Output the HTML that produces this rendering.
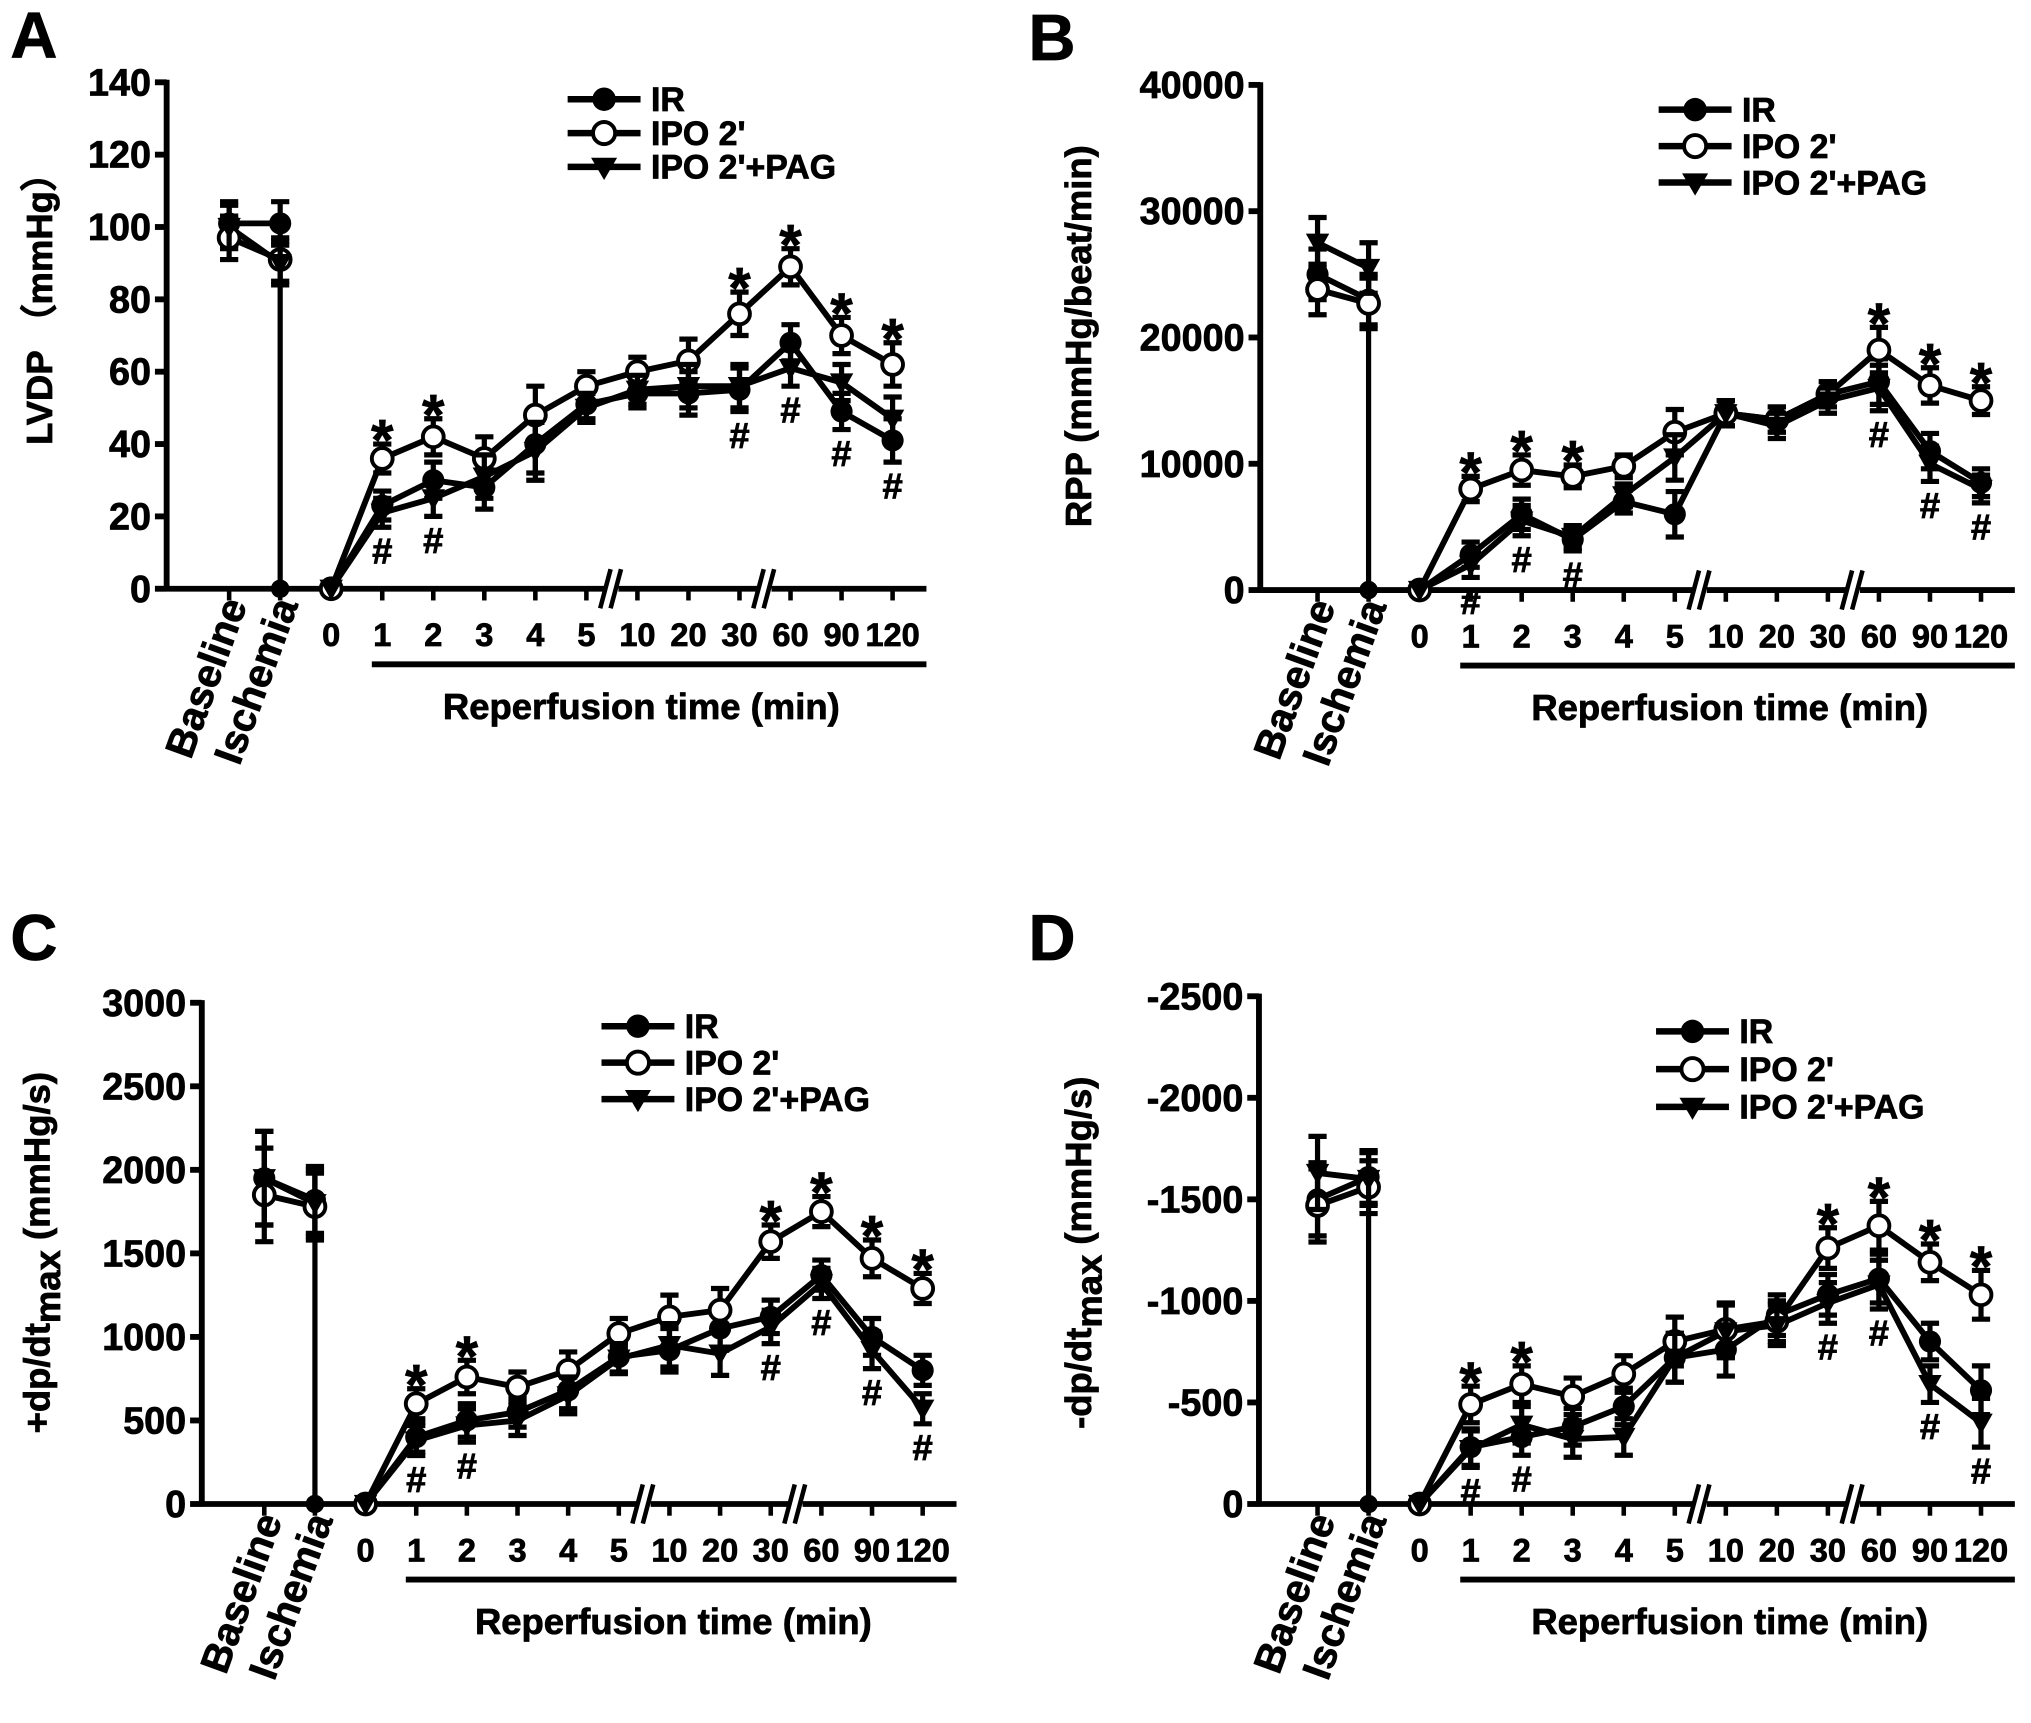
<!DOCTYPE html>
<html><head><meta charset="utf-8"><style>
html,body{margin:0;padding:0;background:#fff}
svg{display:block}
text{font-family:"Liberation Sans",Arial,sans-serif;font-weight:bold;fill:#000;stroke:#000;stroke-width:0.6}
</style></head><body>
<svg id="fig" xmlns="http://www.w3.org/2000/svg" width="2031" height="1723" viewBox="0 0 1560 1323"></svg>
<script>
// ---- shared categories ----
const categories = ["Baseline","Ischemia","0","1","2","3","4","5","10","20","30","60","90","120"];

// ---- Panel A: LVDP ----
const aIR  = [101,101,0,23,30,28,40,51,54,54,55,68,49,41];
const aIPO = [97,91,0,36,42,36,48,56,60,63,76,89,70,62];
const aPAG = [100,90,0,21,25,31,38,50,55,56,56,61,57,47];
const aErr = [6,6,0,4,5,6,8,4,4,6,6,5,5,6];
const aTicks = [0,20,40,60,80,100,120,140];
const aStars = [3,4,10,11,12,13];
const aHash = [3,4,10,11,12,13];

// ---- Panel B: RPP ----
const bIR  = [25000,23000,0,2800,6000,4000,7000,6000,14000,13500,15500,16500,11000,8500];
const bIPO = [23800,22700,0,8000,9500,9000,9800,12500,14000,13500,15500,19000,16200,15000];
const bPAG = [27500,25500,0,2000,5500,4200,7500,10500,14000,13000,15000,16000,10000,8000];
const bErr = [2000,2000,0,1000,1200,900,900,1800,1000,1000,1000,1800,1400,1100];
const bTicks = [0,10000,20000,30000,40000];
const bStars = [3,4,5,11,12,13];
const bHash = [3,4,5,11,12,13];

// ---- Panel C: +dp/dt max ----
const cIR  = [1950,1820,0,400,500,550,680,880,920,1050,1120,1370,1000,800];
const cIPO = [1850,1780,0,600,760,700,800,1020,1120,1160,1570,1750,1470,1290];
const cPAG = [1950,1800,0,380,470,500,650,870,950,900,1060,1320,920,570];
const cErr = [280,200,0,90,100,90,110,90,130,130,100,90,110,90];
const cTicks = [0,500,1000,1500,2000,2500,3000];
const cStars = [3,4,10,11,12,13];
const cHash = [3,4,10,11,12,13];

// ---- Panel D: -dp/dt max (magnitude) ----
const dIR  = [1500,1610,0,280,330,380,480,720,760,930,1030,1110,800,560];
const dIPO = [1470,1560,0,490,590,530,640,800,860,900,1260,1370,1190,1030];
const dPAG = [1630,1600,0,270,390,320,330,720,850,880,990,1080,590,400];
const dErr = [180,130,0,90,90,90,90,120,130,100,100,120,90,120];
const dTicks = [0,500,1000,1500,2000,2500];
const dStars = [3,4,10,11,12,13];
const dHash = [3,4,10,11,12,13];

const NS="http://www.w3.org/2000/svg";
const svg=document.getElementById('fig');
function mk(tag,attrs,parent){const e=document.createElementNS(NS,tag);for(const k in attrs)e.setAttribute(k,attrs[k]);(parent||svg).appendChild(e);return e;}

function drawPanel(p){
  const g=mk('g',{});
  
  
  const x=i=>p.x0+i*p.dx;
  const y=v=>p.y0-(v/p.max)*(p.y0-p.yTop);
  const L=mk('text',{x:p.lx,y:p.ly,'font-size':50,'stroke-width':1.5},g);L.textContent=p.letter;
  
  
  const ya=mk('line',{x1:p.ax,y1:p.y0+2,x2:p.ax,y2:p.yTop-2,stroke:'#000','stroke-width':4.5},g);
  
  
  p.ticks.forEach(t=>{
    mk('line',{x1:p.ax-9,y1:y(t),x2:p.ax,y2:y(t),stroke:'#000','stroke-width':4.5},g);
    const tl=mk('text',{x:p.ax-12,y:y(t)+10,'font-size':29,'text-anchor':'end'},g);
    tl.textContent=(p.neg&&t!==0?'-':'')+t;
    
    
  });
  const xEnd=x(13)+26;
  const b1=x(7.5),b2=x(10.5);
  [[p.ax,b1-5],[b1+5,b2-5],[b2+5,xEnd]].forEach(s=>{
    const xl=mk('line',{x1:s[0],y1:p.y0,x2:s[1],y2:p.y0,stroke:'#000','stroke-width':4.5},g);
    
    
  });
  [b1,b2].forEach(b=>{
    mk('line',{x1:b-9,y1:p.y0+15,x2:b-1,y2:p.y0-15,stroke:'#000','stroke-width':3.5},g);
    mk('line',{x1:b-1,y1:p.y0+15,x2:b+7,y2:p.y0-15,stroke:'#000','stroke-width':3.5},g);
  });
  categories.forEach((c,i)=>{
    mk('line',{x1:x(i),y1:p.y0,x2:x(i),y2:p.y0+9,stroke:'#000','stroke-width':3.5},g);
    if(i<2){
      const t=mk('text',{x:0,y:0,'font-size':31,'text-anchor':'end','stroke-width':1,transform:`translate(${x(i)+14},${p.y0+12}) rotate(-70)`},g);
      t.textContent=c;
      
      
    } else {
      const t=mk('text',{x:x(i),y:p.y0+44,'font-size':25,'text-anchor':'middle'},g);
      t.textContent=c;
      
      
    }
  });
  mk('line',{x1:x(3)-8,y1:p.y0+58,x2:xEnd,y2:p.y0+58,stroke:'#000','stroke-width':4.5},g);
  const xt=mk('text',{x:(x(3)+xEnd)/2-10,y:p.y0+100,'font-size':28,'text-anchor':'middle','stroke-width':0.9},g);
  xt.textContent='Reperfusion time (min)';
  
  
  const yt=mk('text',{x:0,y:0,'font-size':28,'text-anchor':'middle','stroke-width':0.9,transform:`translate(${p.ytx},${p.yty}) rotate(-90)`},g);
  yt.innerHTML=p.ytitle;
  
  
  const minPre=Math.min(p.ir[1],p.ipo[1],p.pag[1]);
  mk('line',{x1:x(1),y1:p.y0,x2:x(1),y2:y(minPre-p.err[1]),stroke:'#000','stroke-width':4},g);
  const series=[{n:'ir',v:p.ir,m:'fc'},{n:'ipo',v:p.ipo,m:'oc'},{n:'pag',v:p.pag,m:'tri'}];
  series.forEach(s=>{
    const sg=mk('g',{},g);
    
    
    const pl=mk('polyline',{points:`${x(0)},${y(s.v[0])} ${x(1)},${y(s.v[1])}`,fill:'none',stroke:'#000','stroke-width':4.5},sg);
    
    
    let pts='';for(let i=2;i<14;i++)pts+=`${x(i)},${y(s.v[i])} `;
    const pl2=mk('polyline',{points:pts,fill:'none',stroke:'#000','stroke-width':4.5},sg);
    
    
  });
  series.forEach(s=>{
    s.v.forEach((v,i)=>{
      const cx=x(i),cy=y(v),e=p.err[i];
      if(e>0){
        mk('line',{x1:cx,y1:y(v-e),x2:cx,y2:y(v+e),stroke:'#000','stroke-width':4},g);
        mk('line',{x1:cx-7,y1:y(v+e),x2:cx+7,y2:y(v+e),stroke:'#000','stroke-width':4},g);
        mk('line',{x1:cx-7,y1:y(v-e),x2:cx+7,y2:y(v-e),stroke:'#000','stroke-width':4},g);
      }
      let m;
      if(s.m==='fc') m=mk('circle',{cx,cy,r:8.5,fill:'#000'},g);
      else if(s.m==='oc') m=mk('circle',{cx,cy,r:8,fill:'#fff',stroke:'#000','stroke-width':3},g);
      else m=mk('polygon',{points:`${cx-9},${cy-7} ${cx+9},${cy-7} ${cx},${cy+9}`,fill:'#000'},g);
      
      
    });
  });
  series.forEach(s=>{
    const m=mk('circle',{cx:x(1),cy:y(0),r:7,fill:'#000'},g);
    
    
  });
  p.stars.forEach(i=>{
    const t=mk('text',{x:x(i),y:y(p.ipo[i]+p.err[i])+12,'font-size':44,'text-anchor':'middle'},g);
    t.textContent='*';
    
    
  });
  p.hash.forEach(i=>{
    const lo=Math.min(p.ir[i],p.pag[i])-p.err[i];
    const t=mk('text',{x:x(i),y:y(lo)+28,'font-size':28,'text-anchor':'middle'},g);
    t.textContent='#';
    
    
  });
  const lg=mk('g',{},g);
  
  
  const labels=['IR',"IPO 2'","IPO 2'+PAG"];
  series.forEach((s,k)=>{
    const ly=p.legY+k*p.legDy,lx=p.legX;
    const e=mk('g',{},lg);
    
    
    mk('line',{x1:lx,y1:ly,x2:lx+56,y2:ly,stroke:'#000','stroke-width':5},e);
    const cx=lx+28;
    if(s.m==='fc') mk('circle',{cx,cy:ly,r:9,fill:'#000'},e);
    else if(s.m==='oc') mk('circle',{cx,cy:ly,r:8.5,fill:'#fff',stroke:'#000','stroke-width':3},e);
    else mk('polygon',{points:`${cx-10},${ly-7} ${cx+10},${ly-7} ${cx},${ly+10}`,fill:'#000'},e);
    const t=mk('text',{x:lx+64,y:ly+9,'font-size':26},e);
    t.textContent=labels[k];
  });
}

drawPanel({name:'panel-a-lvdp',letter:'A',lx:8,ly:44,ax:128,x0:176,dx:39.2,y0:452,yTop:63,max:140,ticks:aTicks,
  ytitle:'LVDP （mmHg）',ytx:40,yty:230,ir:aIR,ipo:aIPO,pag:aPAG,err:aErr,stars:aStars,hash:aHash,legX:436,legY:76,legDy:26});
drawPanel({name:'panel-b-rpp',letter:'B',lx:790,ly:46,ax:968,x0:1012,dx:39.2,y0:453,yTop:65,max:40000,ticks:bTicks,
  ytitle:'RPP (mmHg/beat/min)',ytx:838,yty:258,ir:bIR,ipo:bIPO,pag:bPAG,err:bErr,stars:bStars,hash:bHash,legX:1274,legY:84,legDy:28});
drawPanel({name:'panel-c-plus-dpdt',letter:'C',lx:8,ly:737,ax:155,x0:203,dx:38.9,y0:1155,yTop:770,max:3000,ticks:cTicks,
  ytitle:'+dp/dt<tspan dy="8">max</tspan><tspan dy="-8"> (mmHg/s)</tspan>',ytx:38,yty:962,ir:cIR,ipo:cIPO,pag:cPAG,err:cErr,stars:cStars,hash:cHash,legX:462,legY:788,legDy:28});
drawPanel({name:'panel-d-minus-dpdt',letter:'D',lx:790,ly:737,ax:967,x0:1012,dx:39.2,y0:1155,yTop:765,max:2500,neg:true,ticks:dTicks,
  ytitle:'-dp/dt<tspan dy="8">max</tspan><tspan dy="-8"> (mmHg/s)</tspan>',ytx:838,yty:962,ir:dIR,ipo:dIPO,pag:dPAG,err:dErr,stars:dStars,hash:dHash,legX:1272,legY:792,legDy:29});
</script>
</body></html>
